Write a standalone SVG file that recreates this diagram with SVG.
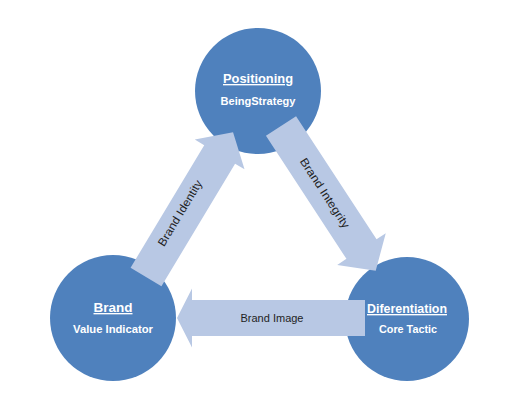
<svg xmlns="http://www.w3.org/2000/svg" width="516" height="414" viewBox="0 0 516 414">
<style>
.circle{fill:#4F81BD;}
.arrow{fill:#B8C8E4;}
.title{font-family:"Liberation Sans",Arial,sans-serif;font-weight:bold;font-size:13.5px;fill:#FFFFFF;text-anchor:middle;text-decoration:underline;}
.sub{font-family:"Liberation Sans",Arial,sans-serif;font-weight:bold;font-size:11.5px;fill:#FFFFFF;text-anchor:middle;}
.lbl{font-family:"Liberation Sans",Arial,sans-serif;font-size:11.5px;fill:#1F1F1F;text-anchor:middle;dominant-baseline:central;}
</style>
<rect width="516" height="414" fill="#FFFFFF"/>
<g id="positioning">
<circle class="circle" cx="258" cy="91" r="63"/>
</g>
<g id="brand">
<circle class="circle" cx="113" cy="318" r="63"/>
</g>
<g id="diferentiation">
<circle class="circle" cx="407" cy="319" r="62"/>
</g>
<g id="connectors">
<g id="brand-image">
<polygon class="arrow" transform="translate(365,318) rotate(180)" points="0,-18 173,-18 173,-29.5 188,0 173,29.5 173,18 0,18"/>
<text class="lbl" x="272" y="318" textLength="63" lengthAdjust="spacingAndGlyphs">Brand Image</text>
</g>
<g id="brand-identity">
<polygon class="arrow" transform="translate(146,277) rotate(-59)" points="0,-18 143,-18 143,-29 169,0 143,29 143,18 0,18"/>
<text class="lbl" transform="translate(180,213) rotate(-59)" textLength="75" lengthAdjust="spacingAndGlyphs">Brand Identity</text>
</g>
<g id="brand-integrity">
<polygon class="arrow" transform="translate(281,126) rotate(56.8)" points="0,-18 147,-18 147,-29 173,0 147,29 147,18 0,18"/>
<text class="lbl" transform="translate(325,193) rotate(57)" textLength="81" lengthAdjust="spacingAndGlyphs">Brand Integrity</text>
</g>
</g>
<g id="positioning-label">
<text class="title" x="258" y="83" textLength="70" lengthAdjust="spacingAndGlyphs">Positioning</text>
<text class="sub" x="258" y="105" textLength="75" lengthAdjust="spacingAndGlyphs">BeingStrategy</text>
</g>
<g id="brand-label">
<text class="title" x="113" y="312" textLength="39" lengthAdjust="spacingAndGlyphs">Brand</text>
<text class="sub" x="113" y="333" textLength="80" lengthAdjust="spacingAndGlyphs">Value Indicator</text>
</g>
<g id="diferentiation-label">
<text class="title" x="407" y="313" textLength="80" lengthAdjust="spacingAndGlyphs">Diferentiation</text>
<text class="sub" x="408" y="333" textLength="58" lengthAdjust="spacingAndGlyphs">Core Tactic</text>
</g>
</svg>
